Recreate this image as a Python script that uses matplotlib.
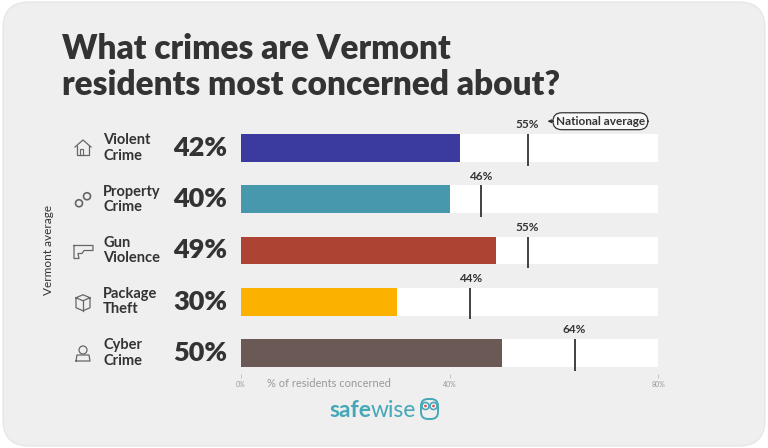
import matplotlib
matplotlib.use("Agg")
import matplotlib.pyplot as plt
import matplotlib.patches as mpatches
from matplotlib.transforms import blended_transform_factory

# Данные
categories = ["Violent\nCrime", "Property\nCrime", "Gun\nViolence", "Package\nTheft", "Cyber\nCrime"]
vermont = [42, 40, 49, 30, 50]
national = [55, 46, 55, 44, 64]
bar_colors = ["#3a3a9f", "#4797ad", "#ad4333", "#fbb100", "#6b5955"]
x_ticks = [0, 40, 80]
x_max = 80

plt.rcParams['font.family'] = ['Lato', 'DejaVu Sans']

fig = plt.figure(figsize=(7.68, 4.48), dpi=100)
fig.patch.set_facecolor("white")

# Серая карточка со скруглёнными углами
card = mpatches.FancyBboxPatch((0.03, 0.02), 7.62, 4.44,
                               boxstyle="round,pad=0,rounding_size=0.26",
                               transform=fig.dpi_scale_trans,
                               fc="#efefef", ec="#e4e4e4", lw=0.8, zorder=-5)
fig.patches.append(card)

W, H = 768, 448
ax = fig.add_axes([241 / W, 1 - 374 / H, (658 - 241) / W, (374 - 115) / H])
ax.set_facecolor("none")

ypos = list(range(len(categories)))
bh = 0.545
ax.barh(ypos, [x_max] * len(ypos), height=bh, color="white", zorder=1)
ax.barh(ypos, vermont, height=bh, color=bar_colors, zorder=2)

for y, n in zip(ypos, national):
    ax.vlines(n, y - bh / 2, y + bh / 2 + 0.07, color="#333333", lw=1.3, zorder=3)
    ax.text(n, y - bh / 2 - 0.07, f"{n}%", ha="center", va="bottom",
            fontsize=8.5, fontweight="bold", color="#333333")

# Подпись национального среднего
ax.annotate("National average", xy=(58.8, -bh / 2 - 0.25), xytext=(60.4, -bh / 2 - 0.25),
            ha="left", va="center", fontsize=8.5, fontweight="bold", color="#333333",
            bbox=dict(boxstyle="round,pad=0.25,rounding_size=0.75", fc="#f8f8f8",
                      ec="#333333", lw=0.9),
            arrowprops=dict(arrowstyle="-|>", color="#333333", lw=0.8,
                            mutation_scale=5, shrinkA=0, shrinkB=0))

ax.set_xlim(0, x_max)
ax.set_ylim(4.41, -0.644)
ax.set_xticks(x_ticks)
ax.set_xticklabels([f"{t}%" for t in x_ticks])
ax.tick_params(axis="x", length=3, width=0.6, color="#bbbbbb", labelsize=5,
               labelcolor="#999999", pad=2)
ax.set_yticks([])
for s in ax.spines.values():
    s.set_visible(False)

# Категории и значения слева
tr = blended_transform_factory(fig.transFigure, ax.transData)
for y, cat, v in zip(ypos, categories, vermont):
    ax.text(103 / W, y, cat, transform=tr, ha="left", va="center",
            fontsize=10.5, fontweight="bold", color="#333333", linespacing=1.1)
    ax.text(227 / W, y, f"{v}%", transform=tr, ha="right", va="center",
            fontsize=19.5, fontweight="heavy", color="#333333")

fig.text(48 / W, 1 - 250 / H, "Vermont average", rotation=90, ha="center", va="center",
         fontsize=8.5, color="#333333")
fig.text(267 / W, 1 - 383 / H, "% of residents concerned", ha="left", va="center",
         fontsize=8, color="#999999")

# Заголовок
fig.text(62 / W, 1 - 49 / H, "What crimes are Vermont", ha="left", va="center",
         fontsize=24, fontweight="heavy", color="#333333")
fig.text(62 / W, 1 - 85 / H, "residents most concerned about?", ha="left", va="center",
         fontsize=24, fontweight="heavy", color="#333333")

# Логотип
teal = "#45a8b8"
safe_t = fig.text(329 / W, 1 - 410 / H, "safe", ha="left", va="center", fontsize=16.5,
                  fontweight="bold", color=teal)
r = fig.canvas.get_renderer()
bb = safe_t.get_window_extent(renderer=r)
fig.text(bb.x1 / W, 1 - 410 / H, "wise", ha="left", va="center", fontsize=16.5,
         color=teal)

# Простые значки (сова и иконки категорий) в пиксельных координатах
ov = fig.add_axes([0, 0, 1, 1])
ov.set_xlim(0, W)
ov.set_ylim(H, 0)
ov.axis("off")
ov.set_zorder(5)
ov.patch.set_alpha(0)
ic = "#666666"

# сова
ov.add_patch(mpatches.FancyBboxPatch((421, 399), 17, 20, boxstyle="round,pad=0,rounding_size=7",
                                     fc="none", ec=teal, lw=1.4))
for ex in (425.5, 433.5):
    ov.add_patch(mpatches.Circle((ex, 406), 3.5, fc="white", ec=teal, lw=1.2))
    ov.add_patch(mpatches.Circle((ex, 406), 1.4, fc="#d9534f", ec="none"))

cy = [148 + 51.25 * i for i in range(5)]
# дом
ov.plot([75, 83, 91], [cy[0] - 1, cy[0] - 8, cy[0] - 1], color=ic, lw=0.9)
ov.plot([77, 77, 89, 89], [cy[0] - 2, cy[0] + 7, cy[0] + 7, cy[0] - 2], color=ic, lw=0.9)
ov.add_patch(mpatches.Rectangle((80, cy[0] + 1), 3, 6, fc="none", ec=ic, lw=0.8))
# наручники
ov.add_patch(mpatches.Circle((79, cy[1] + 4), 3.5, fc="none", ec=ic, lw=1.2))
ov.add_patch(mpatches.Circle((87, cy[1] - 3), 3.5, fc="none", ec=ic, lw=1.2))
# пистолет
ov.plot([74, 93, 93, 84, 82, 78, 79, 74, 74],
        [cy[2] - 5, cy[2] - 5, cy[2], cy[2], cy[2] + 3, cy[2] + 3, cy[2] + 8, cy[2] + 8, cy[2] - 5],
        color=ic, lw=0.9)
# коробка
ov.plot([76, 83, 90, 90, 83, 76, 76, 83, 90], [cy[3] - 4, cy[3] - 7, cy[3] - 4, cy[3] + 6,
                                               cy[3] + 9, cy[3] + 6, cy[3] - 4, cy[3] - 1, cy[3] - 4],
        color=ic, lw=0.9)
ov.plot([83, 83], [cy[3] - 1, cy[3] + 9], color=ic, lw=0.9)
# хакер
ov.add_patch(mpatches.Circle((83, cy[4] - 3), 4, fc="none", ec=ic, lw=0.9))
ov.plot([76, 77, 89, 90, 76], [cy[4] + 8, cy[4] + 2, cy[4] + 2, cy[4] + 8, cy[4] + 8], color=ic, lw=0.9)

fig.savefig("out.png", dpi=100, facecolor=fig.get_facecolor())
